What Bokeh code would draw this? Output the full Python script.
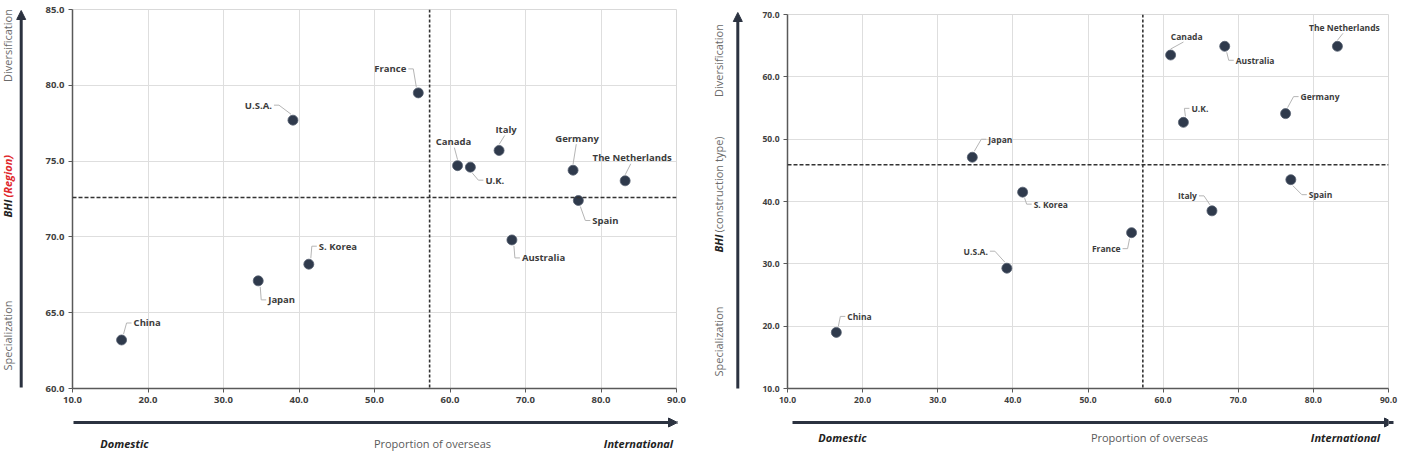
import math
from bokeh.plotting import figure
from bokeh.layouts import row, column
from bokeh.models import Range1d, Span, FixedTicker, PrintfTickFormatter, Arrow, NormalHead
from bokeh.core.properties import value
from bokeh.embed import file_html
from bokeh.resources import INLINE

# ---------------- data ----------------
countries = ["China", "Japan", "S. Korea", "U.S.A.", "France", "Canada", "U.K.",
             "Italy", "Australia", "Germany", "Spain", "The Netherlands"]
overseas = [16.5, 34.6, 41.3, 39.2, 55.8, 61.0, 62.7, 66.5, 68.2, 76.3, 77.0, 83.2]
bhi_region = [63.2, 67.1, 68.2, 77.7, 79.5, 74.7, 74.6, 75.7, 69.8, 74.4, 72.4, 73.7]
bhi_type = [19.0, 47.1, 41.5, 29.3, 35.0, 63.5, 52.7, 38.5, 64.9, 54.1, 43.5, 64.9]
mean_overseas = 57.3
mean_region = 72.6
mean_type = 45.9
x_ticks = [10, 20, 30, 40, 50, 60, 70, 80, 90]
y_ticks_region = [60, 65, 70, 75, 80, 85]
y_ticks_type = [10, 20, 30, 40, 50, 60, 70]

# label placement (pixels: dx, dy upward, alignment)
left_offsets = {
    "China": (12, 17, "left"), "Japan": (10, -19, "left"), "S. Korea": (10, 18, "left"),
    "U.S.A.": (-21, 15, "right"), "France": (-12, 24, "right"), "Canada": (-4, 24, "center"),
    "U.K.": (15, -13, "left"), "Italy": (7, 21, "center"), "Germany": (4, 32, "center"),
    "The Netherlands": (7, 23, "center"), "Spain": (14, -20, "left"), "Australia": (10, -18, "left"),
}
right_offsets = {
    "China": (11, 16, "left"), "Japan": (16, 18, "left"), "S. Korea": (11, -12, "left"),
    "U.S.A.": (-19, 17, "right"), "France": (-11, -16, "right"), "Canada": (16, 19, "center"),
    "U.K.": (8, 14, "left"), "Italy": (-15, 15, "right"), "Australia": (11, -14, "left"),
    "Germany": (15, 17, "left"), "Spain": (18, -15, "left"), "The Netherlands": (7, 19, "center"),
}

FONT = "Open Sans"
DOT = "#2f3a4c"
ARROW = "#2b3240"


def aux_fig(w, h, xr, yr, borders=(0, 0, 0, 0)):
    bl, br, bt, bb = borders
    f = figure(width=w, height=h, x_range=Range1d(*xr), y_range=Range1d(*yr),
               x_axis_type=None, y_axis_type=None, toolbar_location=None,
               output_backend="svg", min_border_left=bl, min_border_right=br,
               min_border_top=bt, min_border_bottom=bb, outline_line_color=None)
    f.xgrid.visible = False
    f.ygrid.visible = False
    f.background_fill_color = "white"
    f.border_fill_color = "white"
    return f


def main_fig(w, h, borders, yr, yticks, ys, mean_y, offsets, lab_size, tick_size):
    bl, br, bt, bb = borders
    p = figure(width=w, height=h, x_range=Range1d(10, 90), y_range=Range1d(*yr),
               toolbar_location=None, output_backend="svg",
               min_border_left=bl, min_border_right=br, min_border_top=bt, min_border_bottom=bb,
               outline_line_color="#d9d9d9")
    fw = w - bl - br
    fh = h - bt - bb
    sx = fw / 80.0
    sy = fh / float(yr[1] - yr[0])
    for ax, t in ((p.xaxis, x_ticks), (p.yaxis, yticks)):
        ax.ticker = FixedTicker(ticks=t)
        ax.formatter = PrintfTickFormatter(format="%.1f")
        ax.axis_line_color = "#595959"
        ax.axis_line_width = 1.5
        ax.major_tick_line_color = "#595959"
        ax.major_tick_out = 4
        ax.major_tick_in = 0
        ax.minor_tick_line_color = None
        ax.major_label_text_font = FONT
        ax.major_label_text_font_style = "bold"
        ax.major_label_text_font_size = tick_size
        ax.major_label_text_color = "#404040"
        ax.major_label_standoff = 4
    p.xgrid.ticker = FixedTicker(ticks=x_ticks)
    p.ygrid.ticker = FixedTicker(ticks=yticks)
    p.xgrid.grid_line_color = "#dedede"
    p.ygrid.grid_line_color = "#dedede"

    p.add_layout(Span(location=mean_overseas, dimension="height", line_color="#333333",
                      line_dash="3 2", line_width=1.6))
    p.add_layout(Span(location=mean_y, dimension="width", line_color="#333333",
                      line_dash="4 2", line_width=1.4))

    lines_x, lines_y = [], []
    for c, x, y in zip(countries, overseas, ys):
        dx, dy, al = offsets[c]
        sgn_y = 1 if dy > 0 else -1
        if al == "center":
            pts = [(0, 6 * sgn_y), (dx * 0.8, dy - 6 * sgn_y)]
        else:
            s = 1 if al == "left" else -1
            pts = [(s * 2, 6 * sgn_y), (dx - s * 7, dy), (dx - s * 2, dy)]
        lines_x.append([x + a / sx for a, b in pts])
        lines_y.append([y + b / sy for a, b in pts])
        p.text(x=[x + dx / sx], y=[y + dy / sy], text=[c], text_align=al,
               text_baseline="middle", text_font=value(FONT), text_font_style="bold",
               text_font_size=lab_size, text_color="#3c3c3c")
    p.multi_line(xs=lines_x, ys=lines_y, line_color="#b5b5b5", line_width=1)
    p.scatter(x=overseas, y=ys, size=10, fill_color=DOT, line_color="#556070", line_width=0.8)
    return p, fw


def side_texts(f, xc, ydiv, yspl, ysplit, bhi_rest, rest_color, rest_style, arrow_x, a_y0, a_y1):
    f.add_layout(Arrow(end=NormalHead(size=9, fill_color=ARROW, line_color=ARROW),
                       x_start=arrow_x, y_start=a_y0, x_end=arrow_x, y_end=a_y1,
                       line_color=ARROW, line_width=3))
    common = dict(angle=math.pi / 2, text_baseline="middle", text_font=value(FONT),
                  text_font_size="11px")
    f.text(x=[xc], y=[ydiv], text=["Diversification"], text_align="center",
           text_color="#6a6a6a", **common)
    f.text(x=[xc], y=[yspl], text=["Specialization"], text_align="center",
           text_color="#6a6a6a", **common)
    f.text(x=[xc], y=[ysplit + 1], text=["BHI"], text_align="right", text_color="#222222",
           text_font_style="bold italic", **common)
    f.text(x=[xc], y=[ysplit - 1], text=[bhi_rest], text_align="left", text_color=rest_color,
           text_font_style=rest_style, **common)


def bottom_texts(f, y_arrow, y_text, x0, x1, xd, xp, xi):
    f.add_layout(Arrow(end=NormalHead(size=9, fill_color=ARROW, line_color=ARROW),
                       x_start=x0, y_start=y_arrow, x_end=x1, y_end=y_arrow,
                       line_color=ARROW, line_width=3))
    common = dict(text_baseline="middle", text_font=value(FONT), text_font_size="11px",
                  text_align="center")
    f.text(x=[xd], y=[y_text], text=["Domestic"], text_color="#222222",
           text_font_style="bold italic", **common)
    f.text(x=[xp], y=[y_text], text=["Proportion of overseas"], text_color="#5a5a5a", **common)
    f.text(x=[xi], y=[y_text], text=["International"], text_color="#222222",
           text_font_style="bold italic", **common)


# ---------------- left chart ----------------
# main frame spans page pixels 72..676 horizontally, 9..388 vertically
SA = aux_fig(30, 452, (0, 30), (452, 0))
side_texts(SA, 7, 45, 335, 198, " (Region)", "#e0262b", "bold italic", 20.7, 387, 10)
MA, fwa = main_fig(670, 408, (42, 24, 9, 20), (60, 85), y_ticks_region, bhi_region, mean_region,
                   left_offsets, "9.5px", "9.5px")
BA = aux_fig(670, 44, (72, 676), (452, 408), borders=(42, 24, 0, 0))
bottom_texts(BA, 422, 443, 73, 677, 124, 432, 638)

# ---------------- right chart ----------------
# main frame spans page pixels 787..1388 horizontally, 14..388 vertically
SB = aux_fig(50, 452, (700, 750), (452, 0))
side_texts(SB, 718, 60, 341, 233, "(construction type)", "#6a6a6a", "normal", 737.3, 388, 12)
MB, fwb = main_fig(651, 408, (37, 13, 14, 20), (10, 70), y_ticks_type, bhi_type, mean_type,
                   right_offsets, "8.5px", "8.5px")
BB = aux_fig(651, 44, (787, 1388), (452, 408), borders=(37, 13, 0, 0))
bottom_texts(BB, 422, 437, 792, 1393, 842, 1149, 1345)

layout = row(SA, column(MA, BA), SB, column(MB, BB))
open("out.html", "w").write(file_html(layout, INLINE))
